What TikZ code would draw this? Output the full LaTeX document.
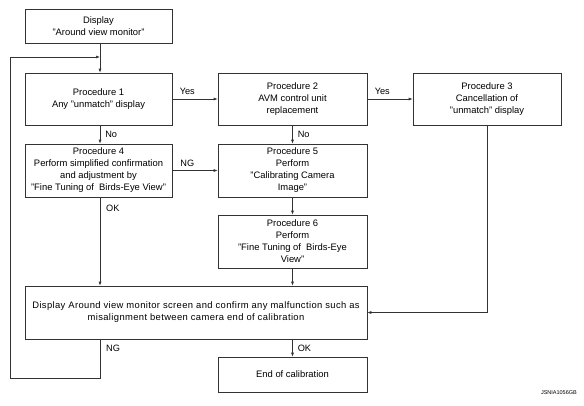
\documentclass[tikz,border=0pt]{standalone}
\usepackage{fontspec}
\setmainfont{Liberation Sans}
\usetikzlibrary{arrows.meta}
\begin{document}
\begin{tikzpicture}[x=1pt,y=-1pt,
  box/.style={draw=black!80,line width=0.6pt,align=center,inner sep=0pt,font=\fontsize{9.4}{12}\selectfont},
  conn/.style={draw=black!80,line width=0.6pt,-{Latex[length=4pt,width=3pt]}},
  plain/.style={draw=black!80,line width=0.6pt},
  lbl/.style={font=\fontsize{9.2}{10}\selectfont,inner sep=0pt}]
\useasboundingbox (0,0) rectangle (584,405);
\node[box,minimum width=147pt,minimum height=34pt] (d) at (98.5,26) {Display\\"Around view monitor"};
\node[box,minimum width=147pt,minimum height=52pt] (p1) at (98.5,99) {Procedure 1\\Any "unmatch" display};
\node[box,minimum width=149pt,minimum height=52pt] (p2) at (292.5,99) {Procedure 2\\AVM control unit\\replacement};
\node[box,minimum width=148pt,minimum height=52pt] (p3) at (487,99) {Procedure 3\\Cancellation of\\"unmatch" display};
\node[box,minimum width=147pt,minimum height=53pt] (p4) at (98.5,170.5) {Procedure 4\\Perform simplified confirmation\\and adjustment by\\"Fine Tuning of\ \ Birds-Eye View"};
\node[box,minimum width=149pt,minimum height=53pt] (p5) at (292.5,170.5) {Procedure 5\\Perform\\"Calibrating Camera\\Image"};
\node[box,minimum width=149pt,minimum height=53pt] (p6) at (292.5,241.5) {Procedure 6\\Perform\\"Fine Tuning of\ \ Birds-Eye\\View"};
\node[box,minimum width=342pt,minimum height=53pt,font=\fontsize{9.4}{12}\selectfont\addfontfeature{LetterSpace=4}] (big) at (196,312.5) {Display Around view monitor screen and confirm any malfunction such as\\misalignment between camera end of calibration};
\node[box,minimum width=149pt,minimum height=35pt] (end) at (292.5,374.5) {End of calibration};
\node[lbl,font=\fontsize{5.5}{6}\selectfont,anchor=east] (code) at (577,393) {JSNIA1056GB};
% connectors
\coordinate (j) at (100,57);
\coordinate (lb) at (100,378);
\coordinate (ll) at (10,378);
\coordinate (lt) at (10,57);
\draw[conn] (d.south -| j) -- (p1.north -| j);
\draw[conn] (p1.east) -- node[lbl,above=4pt,pos=0.33] (y1) {Yes} (p2.west);
\draw[conn] (p2.east) -- node[lbl,above=4pt,pos=0.33] (y2) {Yes} (p3.west);
\draw[conn] (p1.south -| j) -- node[lbl,right=5pt] (n1) {No} (p4.north -| j);
\draw[conn] (p2.south) -- node[lbl,right=5pt] (n2) {No} (p5.north);
\draw[conn] (p4.east) -- node[lbl,above=4pt,pos=0.33] (ng1) {NG} (p5.west);
\draw[conn] (p5.south) -- (p6.south |- p6.north);
\draw[conn] (p4.south -| j) -- (big.north -| j);
\node[lbl,anchor=west] (ok1) at (106,208) {OK};
\draw[conn] (p6.south) -- (big.north -| p6.south);
\draw[conn] (p3.south) |- (big.east);
\draw[conn] (big.south -| end.north) -- node[lbl,right=5pt] (ok2) {OK} (end.north);
\draw[plain] (big.south -| lb) -- (lb) -- (ll) -- (lt);
\draw[conn] (lt) -- (j);
\node[lbl,anchor=west] (ng2) at (106,348) {NG};
\end{tikzpicture}
\end{document}
